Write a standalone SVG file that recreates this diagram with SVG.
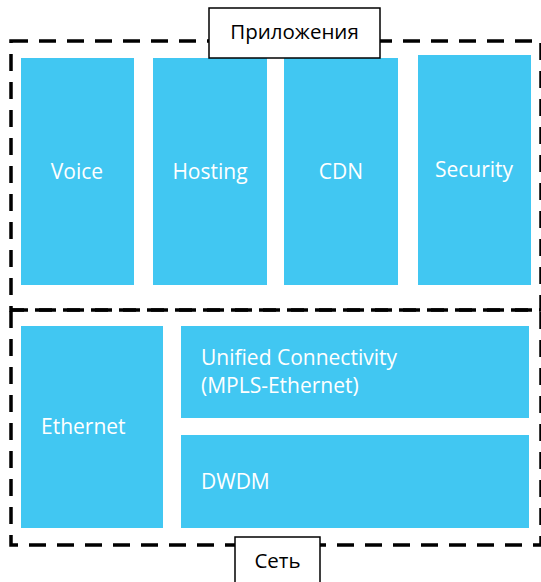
<svg xmlns="http://www.w3.org/2000/svg" width="541" height="582" viewBox="0 0 541 582">
<style>
.frame{fill:none;stroke:#000;stroke-width:3.5;stroke-dasharray:17 11}
.blk{fill:#41C7F2}
.wt{fill:#fff;font-family:"Open Sans",sans-serif;font-size:21px}
.lbl{fill:#fff;stroke:#000;stroke-width:1.5}
.lt{fill:#000;font-family:"Open Sans",sans-serif;font-size:20.5px}
</style>
<rect width="541" height="582" fill="#fff"/>
<g id="connectors"></g>
<g id="frame-apps"><rect class="frame" x="11" y="41" width="530" height="269"/></g>
<g id="frame-net"><rect class="frame" x="11" y="310" width="530" height="235"/></g>
<g id="voice"><rect class="blk" x="21" y="58" width="113" height="227"/><text class="wt" x="77" y="179" text-anchor="middle">Voice</text></g>
<g id="hosting"><rect class="blk" x="153" y="58" width="114" height="227"/><text class="wt" x="210" y="179" text-anchor="middle">Hosting</text></g>
<g id="cdn"><rect class="blk" x="284" y="58" width="114" height="227"/><text class="wt" x="341" y="179" text-anchor="middle">CDN</text></g>
<g id="security"><rect class="blk" x="418" y="55" width="113" height="230"/><text class="wt" x="474" y="177" text-anchor="middle">Security</text></g>
<g id="ethernet"><rect class="blk" x="21" y="326" width="142" height="202"/><text class="wt" x="41" y="434">Ethernet</text></g>
<g id="unified"><rect class="blk" x="181" y="326" width="348" height="92"/><text class="wt" x="201" y="365">Unified Connectivity</text><text class="wt" x="201" y="393">(MPLS-Ethernet)</text></g>
<g id="dwdm"><rect class="blk" x="181" y="435" width="348" height="93"/><text class="wt" x="201" y="489">DWDM</text></g>
<g id="label-apps"><rect class="lbl" x="209" y="8" width="171" height="50"/><text class="lt" x="294.5" y="39" text-anchor="middle">Приложения</text></g>
<g id="label-net"><rect class="lbl" x="235" y="537" width="85" height="60"/><text class="lt" x="277.5" y="568" text-anchor="middle">Сеть</text></g>
</svg>
